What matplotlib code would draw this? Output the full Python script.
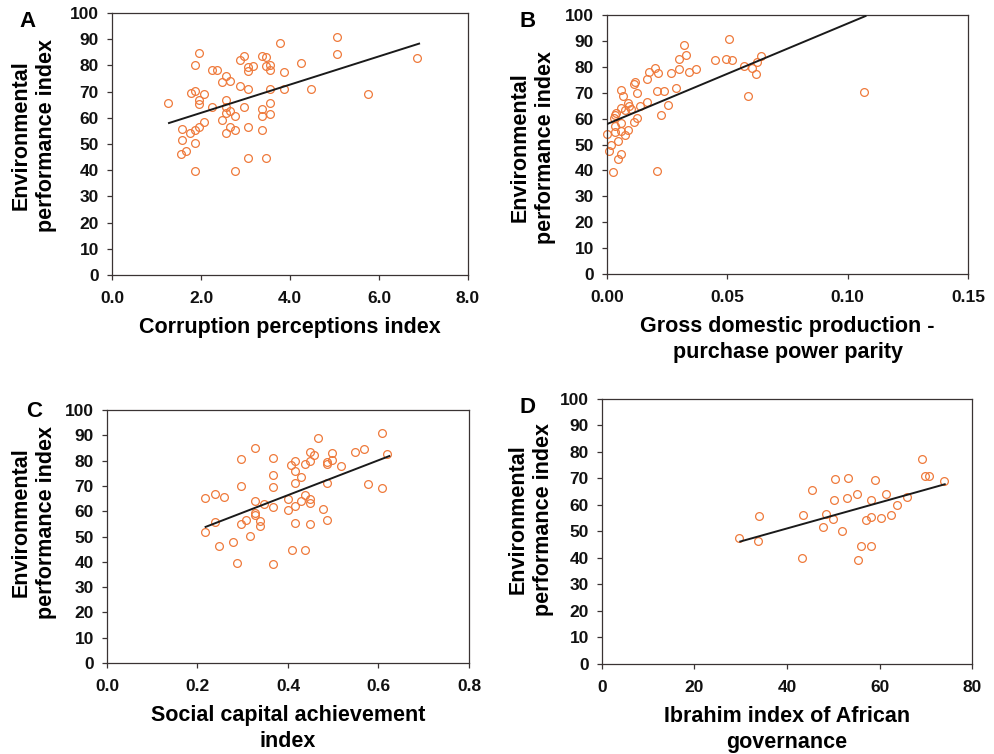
import matplotlib
matplotlib.use('Agg')
import matplotlib.pyplot as plt
from matplotlib.ticker import FormatStrFormatter

plt.rcParams['font.family'] = ['Liberation Sans', 'DejaVu Sans']
plt.rcParams['font.weight'] = 'bold'

# A: corruption perceptions index vs EPI
cpi_x = [1.26, 1.96, 1.87, 1.77, 1.87, 2.07, 1.96, 1.96, 1.57, 1.57, 1.56, 1.66, 1.76, 1.87,
         1.96, 2.07, 1.87, 1.87, 2.25, 2.35, 2.46, 2.56, 2.66, 2.56, 2.25, 2.56, 2.66, 2.56,
         2.46, 2.76, 2.66, 2.56, 2.76, 2.76, 2.87, 2.97, 3.06, 3.06, 3.16, 2.87, 3.06, 2.97,
         3.06, 3.06, 3.36, 3.47, 3.45, 3.56, 3.56, 3.56, 3.36, 3.36, 3.56, 3.56, 3.36, 3.46,
         3.77, 3.86, 3.86, 4.25, 4.46, 5.06, 5.06, 5.76, 6.86]
cpi_y = [65.6, 84.7, 80.3, 69.4, 70.1, 69.2, 66.6, 65.2, 55.7, 51.5, 46.2, 47.5, 54.1, 55.2,
         56.4, 58.3, 50.2, 39.7, 78.3, 78.1, 73.8, 75.8, 74.1, 66.6, 64.3, 64.3, 62.7, 62.0,
         59.0, 60.5, 56.4, 54.1, 55.4, 39.5, 81.9, 83.4, 79.4, 77.7, 79.6, 72.0, 71.1, 64.3,
         56.4, 44.8, 83.4, 83.1, 79.9, 80.1, 78.3, 71.0, 63.3, 60.8, 65.6, 61.5, 55.2, 44.8,
         88.5, 77.3, 71.0, 80.9, 71.0, 90.8, 84.3, 69.2, 82.7]
cpi_fit_x = [1.28, 6.90]
cpi_fit_y = [58.0, 88.3]

# B: GDP purchase power parity vs EPI
gdp_x = [0.0, 0.0007, 0.0015, 0.0024, 0.0032, 0.0028, 0.0033, 0.0037, 0.0032, 0.0046, 0.0046,
         0.0057, 0.0057, 0.0057, 0.0057, 0.0057, 0.0067, 0.0074, 0.0074, 0.0085, 0.0085, 0.0090,
         0.0099, 0.0111, 0.0126, 0.0112, 0.0115, 0.0125, 0.0135, 0.0164, 0.0164, 0.0175, 0.0198,
         0.0210, 0.0208, 0.0236, 0.0225, 0.0207, 0.0255, 0.0266, 0.0287, 0.0300, 0.0298, 0.0318,
         0.0329, 0.0339, 0.0368, 0.0448, 0.0495, 0.0519, 0.0508, 0.0568, 0.0586, 0.0601, 0.0617,
         0.0622, 0.0638, 0.1066]
gdp_y = [54.1, 47.5, 49.8, 39.4, 55.0, 60.1, 61.4, 62.0, 57.1, 51.5, 44.5, 46.2, 55.2, 58.2,
         64.0, 71.0, 68.9, 63.3, 53.8, 55.6, 66.2, 64.9, 63.6, 58.8, 60.4, 73.4, 74.3, 69.8,
         64.9, 66.3, 75.3, 78.1, 79.4, 77.7, 70.7, 70.8, 61.3, 39.6, 65.3, 77.5, 71.7, 79.0,
         83.1, 88.3, 84.6, 78.0, 79.0, 82.8, 83.1, 82.5, 90.6, 80.3, 68.6, 79.7, 77.3, 82.0,
         84.3, 70.3]
gdp_fit_x = [0.0, 0.1074]
gdp_fit_y = [57.9, 99.6]

# C: social capital achievement index vs EPI
sca_x = [0.217, 0.238, 0.258, 0.238, 0.217, 0.247, 0.279, 0.287, 0.297, 0.297, 0.297, 0.308,
         0.317, 0.328, 0.328, 0.328, 0.328, 0.338, 0.338, 0.346, 0.367, 0.367, 0.367, 0.367,
         0.367, 0.399, 0.399, 0.407, 0.416, 0.416, 0.428, 0.416, 0.416, 0.416, 0.408, 0.437,
         0.437, 0.428, 0.448, 0.448, 0.458, 0.448, 0.448, 0.448, 0.437, 0.467, 0.478, 0.487,
         0.487, 0.487, 0.487, 0.498, 0.498, 0.517, 0.549, 0.569, 0.578, 0.608, 0.608, 0.619]
sca_y = [65.4, 66.8, 65.7, 55.7, 51.7, 46.3, 47.8, 39.6, 80.5, 70.1, 55.0, 56.6,
         50.1, 84.8, 64.0, 59.1, 58.4, 56.3, 54.1, 62.7, 81.1, 74.5, 69.4, 61.7,
         39.3, 65.0, 60.3, 78.1, 79.8, 75.9, 73.7, 71.0, 62.0, 55.3, 44.7, 78.5,
         66.6, 64.1, 83.4, 79.8, 82.1, 65.0, 63.1, 55.0, 44.7, 88.8, 60.7, 78.5,
         79.6, 71.2, 56.5, 83.1, 80.1, 77.8, 83.4, 84.4, 70.7, 90.8, 69.0, 82.7]
sca_fit_x = [0.218, 0.624]
sca_fit_y = [53.8, 81.8]

# D: Ibrahim index of African governance vs EPI
iag_x = [29.7, 33.8, 34.0, 43.2, 43.5, 45.5, 47.8, 48.5, 49.9, 50.1, 50.4, 51.8, 52.9, 53.2,
         55.2, 55.4, 55.9, 57.1, 58.1, 58.1, 58.1, 59.1, 60.4, 61.4, 62.4, 63.8, 66.0, 69.2,
         69.9, 70.8, 73.9]
iag_y = [47.6, 46.4, 56.0, 39.8, 56.3, 65.6, 51.8, 56.5, 54.8, 61.7, 69.7, 50.1, 62.7, 70.1,
         64.1, 39.4, 44.6, 54.4, 55.4, 44.6, 61.9, 69.5, 55.0, 64.3, 56.3, 60.1, 62.9, 77.5,
         71.1, 71.1, 69.1]
iag_fit_x = [29.9, 74.1]
iag_fit_y = [46.2, 67.8]

point_color = '#ef7a3c'
axis_color = '#3a3333'
ylab = 'Environmental\nperformance index'

panels = [
    # rect, x, y, fit x, fit y, xlim, xticks, fmt, xlabel, letter pos, ylabel pos
    ([0.1126, 0.6353, 0.3578, 0.3475], cpi_x, cpi_y, cpi_fit_x, cpi_fit_y, (0, 8),
     [0, 2, 4, 6, 8], '%.1f', 'Corruption perceptions index', 'A', (0.028, 0.972), (-0.219, 0.534)),
    ([0.6101, 0.6366, 0.3628, 0.3435], gdp_x, gdp_y, gdp_fit_x, gdp_fit_y, (0, 0.15),
     [0, 0.05, 0.10, 0.15], '%.2f', 'Gross domestic production -\npurchase power parity', 'B',
     (0.530, 0.972), (-0.205, 0.49)),
    ([0.1075, 0.1207, 0.3638, 0.3355], sca_x, sca_y, sca_fit_x, sca_fit_y, (0, 0.8),
     [0, 0.2, 0.4, 0.6, 0.8], '%.1f', 'Social capital achievement\nindex', 'C',
     (0.034, 0.4536), (-0.202, 0.557)),
    ([0.6050, 0.1194, 0.3719, 0.3515], iag_x, iag_y, iag_fit_x, iag_fit_y, (0, 80),
     [0, 20, 40, 60, 80], '%d', 'Ibrahim index of African\ngovernance', 'D',
     (0.530, 0.4602), (-0.192, 0.547)),
]

fig = plt.figure(figsize=(9.95, 7.54), dpi=100)

for rect, xs, ys, fx, fy, xlim, xticks, fmt, xlabel, letter, lpos, ypos in panels:
    ax = fig.add_axes(rect)
    ax.plot(xs, ys, 'o', markerfacecolor='none', markeredgecolor=point_color,
            markersize=5.6, markeredgewidth=0.9, clip_on=False, zorder=2)
    ax.plot(fx, fy, color='#1a1a1a', linewidth=1.4, zorder=3)
    ax.set_xlim(*xlim)
    ax.set_ylim(0, 100)
    ax.set_xticks(xticks)
    ax.set_yticks(range(0, 101, 10))
    ax.xaxis.set_major_formatter(FormatStrFormatter(fmt))
    ax.tick_params(direction='out', length=3.5, width=0.9, colors=axis_color,
                   labelcolor='#111111', labelsize=12.5, pad=6)
    ax.tick_params(axis='x', pad=8)
    for s in ax.spines.values():
        s.set_color(axis_color)
        s.set_linewidth(0.9)
    ax.set_xlabel(xlabel, fontsize=15.5, fontweight='bold', labelpad=8, linespacing=1.3)
    ax.text(ypos[0], ypos[1], ylab, transform=ax.transAxes, rotation=90, ha='center',
            va='center', fontsize=15.5, fontweight='bold', linespacing=1.3)
    fig.text(lpos[0], lpos[1], letter, ha='center', va='center', fontsize=16, fontweight='bold')

fig.savefig('out.png', dpi=100)
